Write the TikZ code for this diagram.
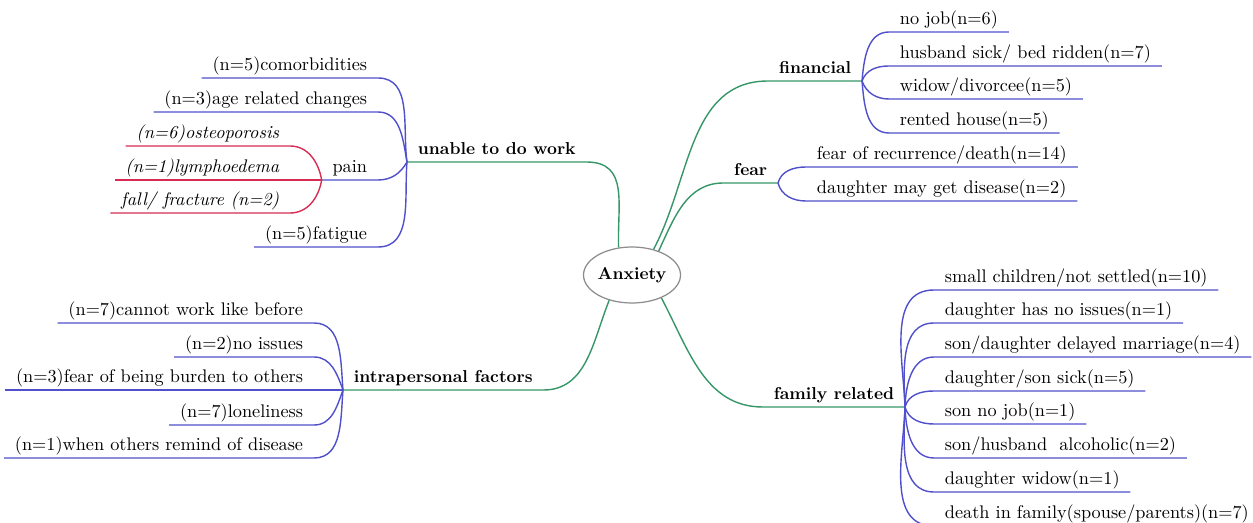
\documentclass[tikz,border=0pt]{standalone}
\usepackage{xcolor}
\usepackage{tikz}
\usetikzlibrary{positioning}
\usetikzlibrary{shapes.geometric}

\definecolor{twigblue}{RGB}{80,80,205}
\definecolor{branchgreen}{RGB}{55,150,105}
\definecolor{painred}{RGB}{215,45,85}
\definecolor{hubgray}{RGB}{140,140,140}
\newcommand{\mapsize}{\fontsize{10.4pt}{12.5pt}\selectfont}
\newcommand{\topicsize}{\fontsize{9.8pt}{12pt}\selectfont\bfseries}

\begin{document}
\begin{tikzpicture}[x=0.02cm,y=0.02cm,
    hub/.style={ellipse,draw=hubgray,line width=0.7pt,minimum width=1.92cm,minimum height=1.12cm,inner sep=0pt,font=\topicsize},
    topic/.style={inner xsep=6pt,inner ysep=4pt,text depth=0pt,font=\topicsize},
    leaf/.style={inner xsep=6pt,inner ysep=4pt,text depth=0pt,font=\mapsize},
    subleaf/.style={leaf,font=\mapsize\itshape},
    branch/.style={draw=branchgreen,line width=0.8pt},
    twig/.style={draw=twigblue,line width=0.8pt},
    redtwig/.style={draw=painred,line width=0.8pt}]
    \useasboundingbox (0,0) rectangle (1253,-523);

    \node[hub] (anx) at (632,-275) {Anxiety};

    \node[topic,anchor=south west] (unable) at (407,-162) {unable to do work};
    \node[topic,anchor=south west] (intra) at (343,-390) {intrapersonal factors};
    \node[topic,anchor=south east] (fin) at (862,-81) {financial};
    \node[topic,anchor=south east] (fear) at (778,-183) {fear};
    \node[topic,anchor=south east] (fam) at (905,-407) {family related};

    \node[leaf,anchor=south east] (como) at (378,-78) {(n=5)comorbidities};
    \node[leaf,anchor=south east] (age) at (378,-112) {(n=3)age related changes};
    \node[leaf,anchor=south east] (pain) at (378,-180) {pain};
    \node[leaf,anchor=south east] (fatig) at (378,-247) {(n=5)fatigue};

    \node[subleaf,anchor=south east] (osteo) at (290,-146) {(n=6)osteoporosis};
    \node[subleaf,anchor=south east] (lymph) at (290,-180) {(n=1)lymphoedema};
    \node[subleaf,anchor=south east] (fall) at (290,-213) {fall/ fracture (n=2)};

    \node[leaf,anchor=south east] (cannot) at (314,-323) {(n=7)cannot work like before};
    \node[leaf,anchor=south east] (noiss) at (314,-357) {(n=2)no issues};
    \node[leaf,anchor=south east] (burden) at (314,-390) {(n=3)fear of being burden to others};
    \node[leaf,anchor=south east] (lonely) at (314,-425) {(n=7)loneliness};
    \node[leaf,anchor=south east] (remind) at (314,-458) {(n=1)when others remind of disease};

    \node[leaf,anchor=south west] (nojob) at (889,-32) {no job(n=6)};
    \node[leaf,anchor=south west] (husb) at (889,-66) {husband sick/ bed ridden(n=7)};
    \node[leaf,anchor=south west] (widow) at (889,-99) {widow/divorcee(n=5)};
    \node[leaf,anchor=south west] (rent) at (889,-133) {rented house(n=5)};

    \node[leaf,anchor=south west] (recur) at (806,-167) {fear of recurrence/death(n=14)};
    \node[leaf,anchor=south west] (dmay) at (806,-201) {daughter may get disease(n=2)};

    \node[leaf,anchor=south west] (small) at (934,-290) {small children/not settled(n=10)};
    \node[leaf,anchor=south west] (dnone) at (934,-323) {daughter has no issues(n=1)};
    \node[leaf,anchor=south west] (delay) at (934,-357) {son/daughter delayed marriage(n=4)};
    \node[leaf,anchor=south west] (sick) at (934,-391) {daughter/son sick(n=5)};
    \node[leaf,anchor=south west] (sonjob) at (934,-424) {son no job(n=1)};
    \node[leaf,anchor=south west] (alco) at (934,-458) {son/husband\ \ alcoholic(n=2)};
    \node[leaf,anchor=south west] (dwid) at (934,-492) {daughter widow(n=1)};
    \node[leaf,anchor=south west] (death) at (934,-526) {death in family(spouse/parents)(n=7)};

    \draw[branch] (anx.116) to[out=92,in=0,looseness=1.2] (unable.south east) -- (unable.south west);
    \draw[branch] (anx.-132) to[out=-112,in=0] (intra.south east) -- (intra.south west);
    \draw[branch] (anx.50) to[out=62,in=180] (fin.south west) -- (fin.south east);
    \draw[branch] (anx.42) to[out=65,in=180] (fear.south west) -- (fear.south east);
    \draw[branch] (anx.-38) to[out=-62,in=180] (fam.south west) -- (fam.south east);

    \draw[twig] (unable.south west) to[out=98,in=0] (como.south east) -- (como.south west);
    \draw[twig] (unable.south west) to[out=100,in=0] (age.south east) -- (age.south west);
    \draw[twig] (unable.south west) to[out=-120,in=0] (pain.south east) -- (pain.south west);
    \draw[twig] (unable.south west) to[out=-95,in=0] (fatig.south east) -- (fatig.south west);

    \draw[redtwig] (pain.south west) to[out=100,in=0] (osteo.south east) -- (osteo.south west);
    \draw[redtwig] (pain.south west) -- (lymph.south west);
    \draw[redtwig] (pain.south west) to[out=-100,in=0] (fall.south east) -- (fall.south west);

    \draw[twig] (intra.south west) to[out=95,in=0] (cannot.south east) -- (cannot.south west);
    \draw[twig] (intra.south west) to[out=110,in=0] (noiss.south east) -- (noiss.south west);
    \draw[twig] (intra.south west) -- (burden.south west);
    \draw[twig] (intra.south west) to[out=-110,in=0] (lonely.south east) -- (lonely.south west);
    \draw[twig] (intra.south west) to[out=-95,in=0] (remind.south east) -- (remind.south west);

    \draw[twig] (fin.south east) to[out=85,in=180] (nojob.south west) -- (nojob.south east);
    \draw[twig] (fin.south east) to[out=70,in=180] (husb.south west) -- (husb.south east);
    \draw[twig] (fin.south east) to[out=-70,in=180] (widow.south west) -- (widow.south east);
    \draw[twig] (fin.south east) to[out=-85,in=180] (rent.south west) -- (rent.south east);

    \draw[twig] (fear.south east) to[out=75,in=180] (recur.south west) -- (recur.south east);
    \draw[twig] (fear.south east) to[out=-75,in=180] (dmay.south west) -- (dmay.south east);

    \draw[twig] (fam.south east) to[out=92,in=180] (small.south west) -- (small.south east);
    \draw[twig] (fam.south east) to[out=92,in=180] (dnone.south west) -- (dnone.south east);
    \draw[twig] (fam.south east) to[out=88,in=180] (delay.south west) -- (delay.south east);
    \draw[twig] (fam.south east) to[out=75,in=180] (sick.south west) -- (sick.south east);
    \draw[twig] (fam.south east) to[out=-75,in=180] (sonjob.south west) -- (sonjob.south east);
    \draw[twig] (fam.south east) to[out=-88,in=180] (alco.south west) -- (alco.south east);
    \draw[twig] (fam.south east) to[out=-92,in=180] (dwid.south west) -- (dwid.south east);
    \draw[twig] (fam.south east) to[out=-92,in=180] (death.south west) -- (death.south east);
\end{tikzpicture}
\end{document}
